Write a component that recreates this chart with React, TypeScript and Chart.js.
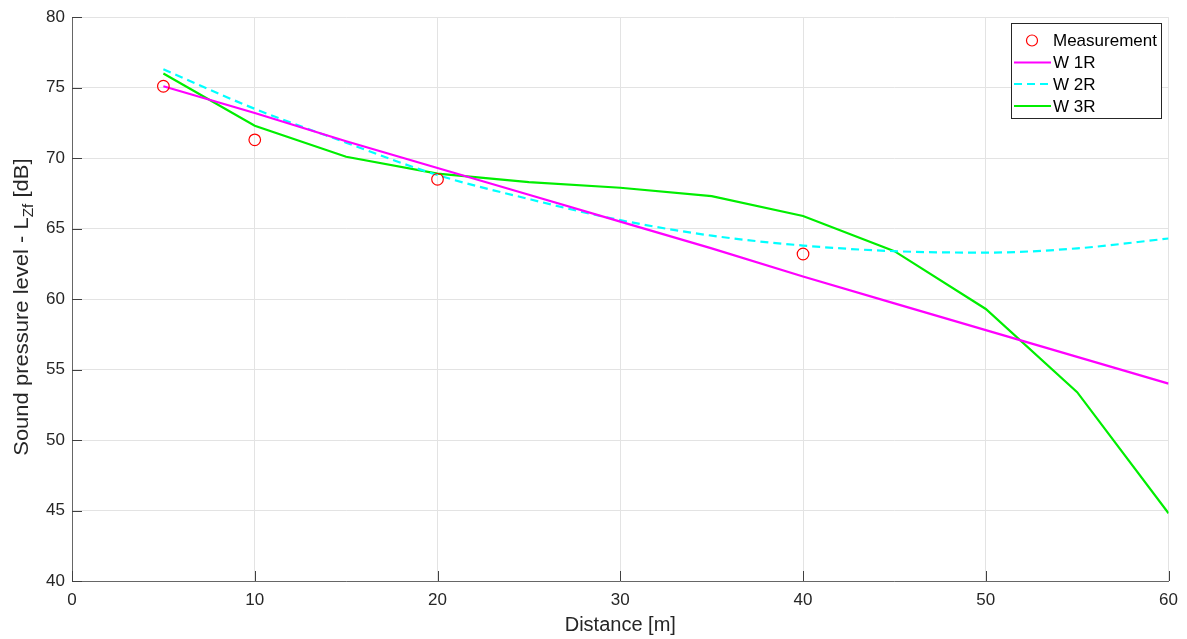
import React, { useEffect, useRef } from "react";
import { Chart, registerables } from "chart.js";

Chart.register(...registerables);

// ---- data ----
const modelDistances = [5, 10, 15, 20, 25, 30, 35, 40, 45, 50, 55, 60];
const measurementDistances = [5, 10, 20, 40];
const measurementValues = [75.1, 71.3, 68.5, 63.2];
const w1rValues = [75.1, 73.2, 71.2, 69.3, 67.4, 65.5, 63.6, 61.6, 59.7, 57.8, 55.9, 54.0];
const w2rValues = [76.3, 73.5, 71.1, 68.8, 67.1, 65.6, 64.5, 63.8, 63.4, 63.3, 63.6, 64.3];
const w3rValues = [76.0, 72.3, 70.1, 68.9, 68.3, 67.9, 67.3, 65.9, 63.4, 59.3, 53.4, 44.8];
const xTickValues = [0, 10, 20, 30, 40, 50, 60];
const yTickValues = [40, 45, 50, 55, 60, 65, 70, 75, 80];
const seriesLabels = ["Measurement", "W 1R", "W 2R", "W 3R"];
const xTitle = "Distance [m]";
const yTitleMain = "Sound pressure level - L";
const yTitleSub = "Zf";
const yTitleTail = " [dB]";

const FONT = "'Liberation Sans', Arial, Helvetica, sans-serif";
const TEXT = "#262626";

const toPoints = (xs: number[], ys: number[]) => xs.map((x, i) => ({ x, y: ys[i] }));

const frameTicksPlugin = {
  id: "frameTicks",
  afterDatasetsDraw(chart: any) {
    const { ctx, chartArea } = chart;
    const xs = chart.scales.x;
    const ys = chart.scales.y;
    ctx.save();
    ctx.strokeStyle = "#404040";
    ctx.lineWidth = 1;
    ctx.beginPath();
    xTickValues.forEach((v) => {
      const px = Math.round(xs.getPixelForValue(v)) + 0.5;
      ctx.moveTo(px, chartArea.bottom);
      ctx.lineTo(px, chartArea.bottom - 10);
    });
    yTickValues.forEach((v) => {
      const py = Math.round(ys.getPixelForValue(v)) + 0.5;
      ctx.moveTo(chartArea.left, py);
      ctx.lineTo(chartArea.left + 10, py);
    });
    ctx.stroke();
    ctx.restore();
  },
};

const legendPlugin = {
  id: "matlabLegend",
  afterDraw(chart: any) {
    const { ctx } = chart;
    const left = 1011.5;
    const top = 23.5;
    const w = 150;
    const h = 95;
    ctx.save();
    ctx.fillStyle = "#ffffff";
    ctx.fillRect(left, top, w, h);
    ctx.strokeStyle = "#262626";
    ctx.lineWidth = 1;
    ctx.strokeRect(left, top, w, h);
    const rowY = [40.5, 62.5, 84, 106];
    const ds = chart.data.datasets;
    ctx.font = `17px ${FONT}`;
    ctx.textBaseline = "middle";
    ctx.textAlign = "left";
    seriesLabels.forEach((label, i) => {
      const y = rowY[i];
      const d = ds[i];
      if (i === 0) {
        ctx.beginPath();
        ctx.strokeStyle = d.borderColor;
        ctx.lineWidth = 1.2;
        ctx.arc(1032, y, 5.5, 0, Math.PI * 2);
        ctx.stroke();
      } else {
        ctx.beginPath();
        ctx.strokeStyle = d.borderColor;
        ctx.lineWidth = 2.2;
        ctx.setLineDash(d.borderDash || []);
        ctx.moveTo(1014, y);
        ctx.lineTo(1051, y);
        ctx.stroke();
        ctx.setLineDash([]);
      }
      ctx.fillStyle = "#000000";
      ctx.fillText(label, 1053, y + 1);
    });
    ctx.restore();
  },
};

const yTitlePlugin = {
  id: "yTitle",
  afterDraw(chart: any) {
    const { ctx, chartArea } = chart;
    ctx.save();
    const mainFont = `20px ${FONT}`;
    const subFont = `14px ${FONT}`;
    ctx.font = mainFont;
    const wMain = ctx.measureText(yTitleMain).width;
    const wTail = ctx.measureText(yTitleTail).width;
    ctx.font = subFont;
    const wSub = ctx.measureText(yTitleSub).width;
    const total = wMain + wSub + wTail;
    const cy = (chartArea.top + chartArea.bottom) / 2 + 8;
    ctx.translate(28, cy);
    ctx.rotate(-Math.PI / 2);
    ctx.scale(1.1, 1);
    ctx.fillStyle = TEXT;
    ctx.textBaseline = "alphabetic";
    ctx.textAlign = "left";
    let x = -total / 2;
    ctx.font = mainFont;
    ctx.fillText(yTitleMain, x, 0);
    x += wMain;
    ctx.font = subFont;
    ctx.fillText(yTitleSub, x, 5);
    x += wSub;
    ctx.font = mainFont;
    ctx.fillText(yTitleTail, x, 0);
    ctx.restore();
  },
};

export default function App() {
  const canvasRef = useRef<HTMLCanvasElement | null>(null);

  useEffect(() => {
    document.body.style.margin = "0";
    const canvas = canvasRef.current;
    if (!canvas) return;
    const chart = new Chart(canvas, {
      type: "scatter",
      data: {
        datasets: [
          {
            label: seriesLabels[0],
            data: toPoints(measurementDistances, measurementValues),
            showLine: false,
            borderColor: "#ff0000",
            backgroundColor: "rgba(0,0,0,0)",
            pointRadius: 5.8,
            pointBorderWidth: 1.2,
            pointStyle: "circle",
          },
          {
            label: seriesLabels[1],
            data: toPoints(modelDistances, w1rValues),
            showLine: true,
            borderColor: "#ff00ff",
            borderWidth: 2.2,
            pointRadius: 0,
            tension: 0,
          },
          {
            label: seriesLabels[2],
            data: toPoints(modelDistances, w2rValues),
            showLine: true,
            borderColor: "#00ffff",
            borderWidth: 2.2,
            borderDash: [8, 5],
            pointRadius: 0,
            cubicInterpolationMode: "monotone",
          },
          {
            label: seriesLabels[3],
            data: toPoints(modelDistances, w3rValues),
            showLine: true,
            borderColor: "#00ee00",
            borderWidth: 2.2,
            pointRadius: 0,
            tension: 0,
          },
        ],
      },
      options: {
        animation: false,
        responsive: false,
        maintainAspectRatio: false,
        layout: { padding: { top: 17, right: 18, left: 0, bottom: 0 } },
        plugins: {
          legend: { display: false },
          tooltip: { enabled: false },
        },
        scales: {
          x: {
            type: "linear",
            min: 0,
            max: 60,
            afterFit: (s: any) => {
              s.height = 58;
            },
            afterBuildTicks: (s: any) => {
              s.ticks = xTickValues.map((v) => ({ value: v }));
            },
            grid: { color: "#e3e3e3", drawTicks: false, lineWidth: 1 },
            border: { display: true, color: "#666666", width: 1 },
            ticks: {
              padding: 9,
              color: TEXT,
              font: { family: FONT, size: 17 },
              maxRotation: 0,
            },
            title: {
              display: true,
              text: xTitle,
              color: TEXT,
              font: { family: FONT, size: 20 },
              padding: { top: 0, bottom: 2 },
            },
          },
          y: {
            type: "linear",
            min: 40,
            max: 80,
            afterFit: (s: any) => {
              s.width = 72;
            },
            afterBuildTicks: (s: any) => {
              s.ticks = yTickValues.map((v) => ({ value: v }));
            },
            grid: { color: "#e3e3e3", drawTicks: false, lineWidth: 1 },
            border: { display: true, color: "#666666", width: 1 },
            ticks: {
              padding: 7,
              color: TEXT,
              font: { family: FONT, size: 17 },
            },
          },
        },
      },
      plugins: [frameTicksPlugin, legendPlugin, yTitlePlugin],
    } as any);
    return () => chart.destroy();
  }, []);

  return (
    <div style={{ position: "absolute", left: 0, top: 0, width: 1187, height: 639, background: "#fff" }}>
      <canvas ref={canvasRef} width={1187} height={639} style={{ width: 1187, height: 639 }} />
    </div>
  );
}
